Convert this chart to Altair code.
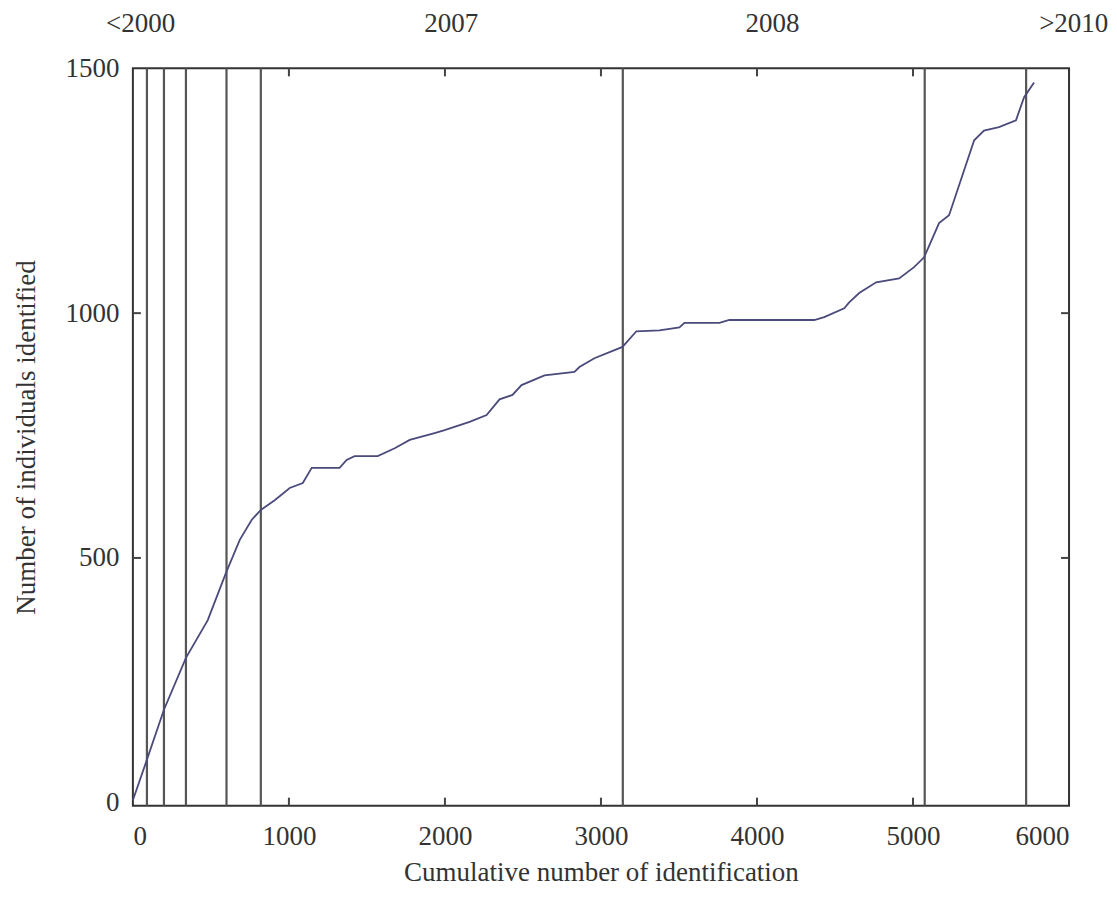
import altair as alt
import pandas as pd

# Cumulative number of identifications vs number of individuals identified
ids = [0, 90, 199, 340, 480, 596, 685, 762, 820, 909, 1005, 1089, 1146, 1325, 1370,
       1421, 1569, 1678, 1774, 1934, 1998, 2158, 2267, 2350, 2433, 2491, 2638, 2830,
       2862, 2958, 3138, 3227, 3375, 3503, 3535, 3759, 3823, 4367, 4431, 4559, 4591,
       4655, 4764, 4911, 5007, 5071, 5167, 5231, 5392, 5455, 5551, 5660, 5712, 5776]
individuals = [5, 88, 190, 296, 373, 469, 537, 578, 598, 618, 643, 653, 684, 684, 700,
               708, 708, 724, 741, 755, 761, 778, 792, 824, 833, 853, 873, 880,
               890, 908, 931, 963, 965, 971, 980, 980, 986, 986, 992, 1010, 1022,
               1041, 1063, 1071, 1094, 1114, 1184, 1200, 1353, 1373, 1380, 1394, 1441, 1471]

# vertical year-boundary lines
year_breaks = [90, 199, 340, 600, 820, 3140, 5075, 5725]
# year labels on top
year_labels = ["<2000", "2007", "2008", ">2010"]
year_label_pos = [50, 2040, 4100, 6030]

x_ticks = [0, 1000, 2000, 3000, 4000, 5000, 6000]
y_ticks = [0, 500, 1000, 1500]
x_inner_ticks = [1000, 2000, 3000, 4000, 5000]
y_inner_ticks = [500, 1000]

W, H = 937, 738
FONT = "Liberation Serif"
TXT = "#333333"
FS = 27

curve_df = pd.DataFrame({"x": ids, "y": individuals})
breaks_df = pd.DataFrame({"x": year_breaks})
labels_df = pd.DataFrame({"x": year_label_pos, "label": year_labels})
xt_df = pd.DataFrame({"x": x_inner_ticks})
yt_df = pd.DataFrame({"y": y_inner_ticks})

xscale = alt.Scale(domain=[0, 6000], nice=False, zero=False)
yscale = alt.Scale(domain=[-6, 1500], nice=False, zero=False)

xaxis = alt.Axis(values=x_ticks, ticks=False, domain=False, grid=False,
                 labelFont=FONT, labelFontSize=FS, labelColor=TXT, labelPadding=18,
                 title="Cumulative number of identification", titleFont=FONT,
                 titleFontSize=FS, titleFontWeight="normal", titleColor=TXT,
                 titlePadding=10, format="d")
yaxis = alt.Axis(values=y_ticks, ticks=False, domain=False, grid=False,
                 labelFont=FONT, labelFontSize=FS, labelColor=TXT, labelPadding=14,
                 title="Number of individuals identified", titleFont=FONT,
                 titleFontSize=FS, titleFontWeight="normal", titleColor=TXT,
                 titlePadding=24, format="d")

line = alt.Chart(curve_df).mark_line(color="#4a4a7c", strokeWidth=1.8).encode(
    x=alt.X("x:Q", scale=xscale, axis=xaxis),
    y=alt.Y("y:Q", scale=yscale, axis=yaxis),
)

rules = alt.Chart(breaks_df).mark_rule(color="#555555", strokeWidth=2.2).encode(
    x=alt.X("x:Q", scale=xscale)
)

top_labels = alt.Chart(labels_df).mark_text(
    font=FONT, fontSize=FS, color=TXT, baseline="middle", align="center"
).encode(
    x=alt.X("x:Q", scale=xscale),
    y=alt.value(-44),
    text="label:N",
)

tick_bottom = alt.Chart(xt_df).mark_rule(color="#444444", strokeWidth=2).encode(
    x=alt.X("x:Q", scale=xscale), y=alt.value(H), y2=alt.value(H - 8))
tick_top = alt.Chart(xt_df).mark_rule(color="#444444", strokeWidth=2).encode(
    x=alt.X("x:Q", scale=xscale), y=alt.value(0), y2=alt.value(8))
tick_left = alt.Chart(yt_df).mark_rule(color="#444444", strokeWidth=2).encode(
    y=alt.Y("y:Q", scale=yscale), x=alt.value(0), x2=alt.value(8))
tick_right = alt.Chart(yt_df).mark_rule(color="#444444", strokeWidth=2).encode(
    y=alt.Y("y:Q", scale=yscale), x=alt.value(W), x2=alt.value(W - 8))

chart = alt.layer(
    rules, line, top_labels, tick_bottom, tick_top, tick_left, tick_right
).properties(
    width=W, height=H,
    background="white",
    autosize=alt.AutoSizeParams(type="none"),
    padding={"left": 125, "top": 60, "right": 40, "bottom": 90},
).configure_view(
    stroke="#333333", strokeWidth=2
)

chart.save("out.html", embed_options={"renderer": "svg", "actions": False})
